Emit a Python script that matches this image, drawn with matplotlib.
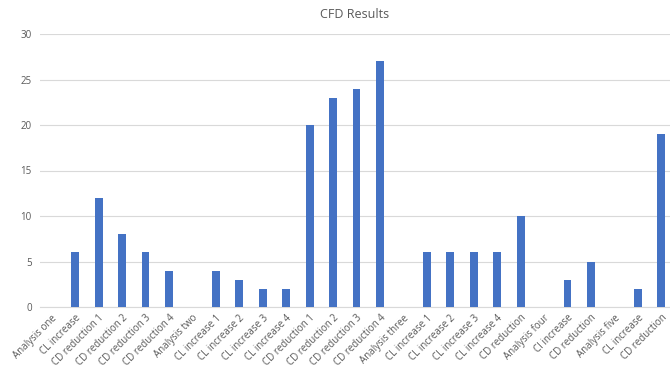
import matplotlib
matplotlib.use("Agg")
import matplotlib.pyplot as plt

categories = [
    "Analysis one", "CL increase", "CD reduction 1", "CD reduction 2", "CD reduction 3",
    "CD reduction 4", "Analysis two", "CL increase 1", "CL increase 2", "CL increase 3",
    "CL increase 4", "CD reduction 1", "CD reduction 2", "CD reduction 3", "CD reduction 4",
    "Analysis three", "CL increase 1", "CL increase 2", "CL increase 3", "CL increase 4",
    "CD reduction", "Analysis four", "CI increase", "CD reduction", "Analysis five",
    "CL increase", "CD reduction",
]
values = [0, 6, 12, 8, 6, 4, 0, 4, 3, 2, 2, 20, 23, 24, 27, 0, 6, 6, 6, 6, 10, 0, 3, 5, 0, 2, 19]
yticks = [0, 5, 10, 15, 20, 25, 30]

plt.rcParams["font.family"] = ["Open Sans", "DejaVu Sans"]
text_color = "#595959"

fig = plt.figure(figsize=(6.7, 3.68), dpi=100)
# plot area runs slightly past the right edge of the canvas
ax = fig.add_axes([40 / 670, 1 - 307 / 368, 633 / 670, 273 / 368])

x = list(range(len(categories)))
ax.bar(x, values, width=0.34, color="#4472C4", zorder=3)

ax.set_xlim(-0.5, len(categories) - 0.5)
ax.set_ylim(0, 30)
ax.set_yticks(yticks)
ax.set_yticklabels([str(v) for v in yticks], fontsize=7, color=text_color)
ax.set_xticks(x)
ax.set_xticklabels(categories, rotation=45, ha="right", rotation_mode="anchor",
                   fontsize=7, color=text_color)
ax.tick_params(axis="both", length=0, pad=6)
ax.tick_params(axis="x", pad=4)

ax.grid(axis="y", color="#D9D9D9", linewidth=0.8, zorder=0)
for side in ("top", "right", "left"):
    ax.spines[side].set_visible(False)
ax.spines["bottom"].set_color("#D9D9D9")
ax.spines["bottom"].set_linewidth(0.8)

fig.suptitle("CFD Results", x=355 / 670, y=1 - 8 / 368, va="top", fontsize=9, color=text_color)

fig.savefig("out.png", dpi=100)
